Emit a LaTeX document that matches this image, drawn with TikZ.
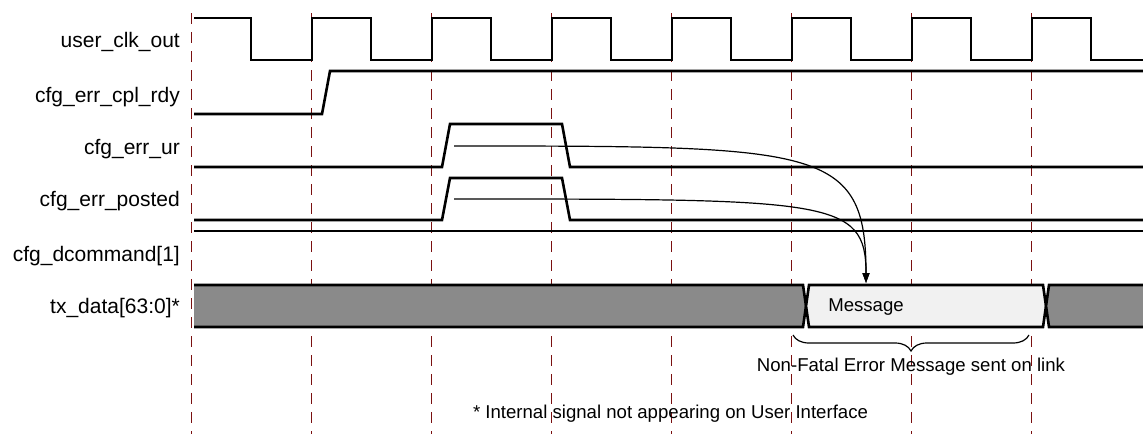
\documentclass[tikz,border=0pt]{standalone}
\usepackage{fontspec}
\setmainfont{Liberation Sans}
\usetikzlibrary{arrows.meta,decorations.pathreplacing}
\definecolor{gridred}{HTML}{7A1010}
\definecolor{busgray}{HTML}{8A8A8A}
\definecolor{msgfill}{HTML}{F1F1F1}
\newcommand\sigfont{\fontsize{21}{25}\selectfont}
\newcommand\notefont{\fontsize{18.6}{22}\selectfont}
\tikzset{
  gridline/.style={gridred, line width=1.3pt, dash pattern=on 11pt off 8pt},
  wave/.style={black, line width=2.6pt, line join=miter},
  siglabel/.style={anchor=base east, inner sep=0pt, font=\sigfont},
  note/.style={anchor=base, inner sep=0pt, font=\notefont},
  arr/.style={black, line width=1.2pt, -{Triangle[length=10pt,width=7pt]}},
  bracestyle/.style={black, line width=1.2pt, decorate, decoration={brace, amplitude=16pt}}
}
\begin{document}
\begin{tikzpicture}[x=1pt,y=-1pt]
\useasboundingbox (0,0) rectangle (1143,440);
% grid
\foreach \k in {0,...,7}
  \draw[gridline] ({191.7+120*\k},13) -- ({191.7+120*\k},434);
% labels
\node[siglabel] (lclk) at (180,47) {user\_clk\_out};
\node[siglabel] (lrdy) at (180,102.3) {cfg\_err\_cpl\_rdy};
\node[siglabel] (lur) at (180,154) {cfg\_err\_ur};
\node[siglabel] (lpost) at (180,206.7) {cfg\_err\_posted};
\node[siglabel] (ldcmd) at (180,261.7) {cfg\_dcommand[1]};
\node[siglabel] (ltx) at (180,313.5) {tx\_data[63:0]*};
% clock
\draw[wave] (194,18)
  foreach \k in {0,...,6} { -- ({251+120*\k},18) -- ({251+120*\k},60) -- ({312+120*\k},60) -- ({312+120*\k},18) }
  -- (1091,18) -- (1091,60) -- (1143,60);
% cfg_err_cpl_rdy
\draw[wave] (194,114) -- (322,114) -- (330,71) -- (1143,71);
% cfg_err_ur
\draw[wave] (194,167) -- (442,167) -- (450,124) -- (562,124) -- (570,167) -- (1143,167);
% cfg_err_posted
\draw[wave] (194,220) -- (442,220) -- (450,178) -- (562,178) -- (570,220) -- (1143,220);
% cfg_dcommand[1]
\draw[wave] (194,231) -- (1143,231);
% tx_data
\fill[busgray] (194,285) -- (803,285) -- (806,306) -- (803,327) -- (194,327) -- cycle;
\draw[wave] (194,285) -- (803,285) -- (806,306) -- (803,327) -- (194,327);
\draw[wave, fill=msgfill] (809,285) -- (1043,285) -- (1046,306) -- (1043,327) -- (809,327) -- (806,306) -- cycle;
\fill[busgray] (1143,285) -- (1049,285) -- (1046,306) -- (1049,327) -- (1143,327) -- cycle;
\draw[wave] (1143,285) -- (1049,285) -- (1046,306) -- (1049,327) -- (1143,327);
\node[note] (msg) at (866,311.7) {Message};
% arrows
\coordinate (urstart) at (454,146);
\coordinate (poststart) at (454,199);
\coordinate (msgtop) at (866,283);
\draw[arr] (urstart) .. controls (820,146) and (866,146) .. (msgtop);
\draw[arr] (poststart) .. controls (830,199) and (866,199) .. (msgtop);
% brace
\coordinate (bl) at (793,335);
\coordinate (br) at (1029,335);
\draw[bracestyle] (br) -- (bl);
\node[note] (nflabel) at (911,371.7) {Non-Fatal Error Message sent on link};
\node[note] (internal) at (670.5,418) {* Internal signal not appearing on User Interface};
\end{tikzpicture}
\end{document}
